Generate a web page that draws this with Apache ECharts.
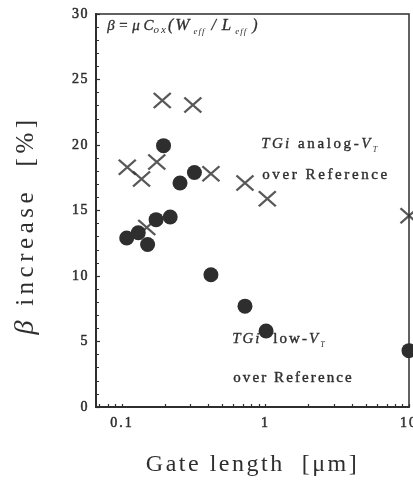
<!DOCTYPE html>
<html>
<head>
<meta charset="utf-8">
<script src="https://cdn.jsdelivr.net/npm/echarts@6/dist/echarts.min.js"></script>
<style>
  html, body { margin: 0; padding: 0; background: #ffffff; }
  #chart { width: 413px; height: 481px; }
</style>
</head>
<body>
<div id="chart"></div>
<script>
// TGi low-VT over Reference (filled circles)
const lowVtGateLength = [0.108, 0.130, 0.151, 0.173, 0.217, 0.254, 0.320, 0.195, 0.417, 0.72, 1.01, 10];
const lowVtIncrease   = [12.9, 13.3, 12.4, 14.3, 14.5, 17.1, 17.9, 19.95, 10.1, 7.7, 5.8, 4.3];

// TGi analog-VT over Reference (crosses)
const analogVtGateLength = [0.109, 0.137, 0.149, 0.175, 0.191, 0.312, 0.417, 0.72, 1.03, 10];
const analogVtIncrease   = [18.3, 17.4, 13.7, 18.7, 23.4, 23.05, 17.8, 17.1, 15.9, 14.6];

// Axis ticks
const xLabelValues = [0.1, 1, 10];
const xTickValues = [0.07, 0.08, 0.09, 0.1, 0.2, 0.3, 0.4, 0.5, 0.6, 0.7, 0.8, 0.9,
                     1, 2, 3, 4, 5, 6, 7, 8, 9, 10];

const INK = '#2e2e2e';
const SERIF = '"Liberation Serif", "Times New Roman", serif';

// Letter-spaced text: one rich token per character
function spaced(text, key) {
  return Array.from(text).map(function (c) { return '{' + key + '|' + c + '}'; }).join('');
}

// Axis label tokens (ECharts text style); a thin outline makes the strokes a little heavier
function labelToken(size, gap, heavy) {
  return { fontFamily: SERIF, fontSize: size, color: INK,
           textBorderColor: INK, textBorderWidth: heavy, padding: [0, gap, 0, 0] };
}

// Tokens for free-standing graphic text (zrender style keys)
function upright(size, gap, heavy) {
  return { fontFamily: SERIF, fontSize: size, fill: INK, lineHeight: 20,
           stroke: heavy ? INK : null, lineWidth: heavy || 0, padding: [0, gap, 0, 0] };
}
function italic(size, gap, heavy, padLeft) {
  return { fontFamily: SERIF, fontStyle: 'italic', fontSize: size, fill: INK, lineHeight: 20,
           stroke: heavy ? INK : null, lineWidth: heavy || 0, padding: [0, gap, 0, padLeft || 0] };
}
function subscript(size, lineHeight, padLeft, padRight) {
  return { fontFamily: SERIF, fontStyle: 'italic', fontSize: size, fill: INK,
           lineHeight: lineHeight, verticalAlign: 'bottom', padding: [0, padRight, 0, padLeft] };
}

const chart = echarts.init(document.getElementById('chart'), null, { renderer: 'canvas' });

const option = {
  backgroundColor: '#ffffff',
  animation: false,
  grid: {
    left: 96, right: 4, top: 14, bottom: 74,
    outerBoundsMode: 'none',
    containLabel: false,
    show: true, borderColor: INK, borderWidth: 1.5, backgroundColor: 'transparent'
  },
  xAxis: {
    type: 'log',
    logBase: 10,
    min: 0.066,
    max: 10,
    name: spaced('Gate length  [μm]', 'n'),
    nameLocation: 'middle',
    nameGap: 46,
    nameTextStyle: {
      rich: { n: { fontFamily: SERIF, fontSize: 24, color: INK, padding: [0, 2.5, 0, 0] } }
    },
    axisLine: { show: true, lineStyle: { color: INK, width: 2 } },
    axisTick: { show: true, inside: true, length: 3, customValues: xTickValues,
                lineStyle: { color: INK, width: 1.2 } },
    minorTick: { show: false },
    splitLine: { show: false },
    axisLabel: {
      customValues: xLabelValues,
      margin: 9,
      formatter: function (v) { return spaced(String(+(+v).toPrecision(3)), 't'); },
      rich: { t: labelToken(14, 2, 0.5) }
    }
  },
  yAxis: {
    type: 'value',
    min: 0,
    max: 30,
    interval: 5,
    name: '{b|β}' + spaced(' increase  [%]', 'n'),
    nameLocation: 'middle',
    nameGap: 56,
    nameTextStyle: {
      padding: [0, 29, 0, 0],
      rich: {
        b: { fontFamily: SERIF, fontStyle: 'italic', fontSize: 28, color: INK, padding: [0, 4, 0, 0] },
        n: { fontFamily: SERIF, fontSize: 25, color: INK, padding: [0, 4.5, 0, 0] }
      }
    },
    axisLine: { show: true, lineStyle: { color: INK, width: 2 } },
    axisTick: { show: true, inside: true, length: 4, lineStyle: { color: INK, width: 1.2 } },
    minorTick: { show: true, splitNumber: 5, length: 3, lineStyle: { color: INK, width: 1 } },
    splitLine: { show: false },
    axisLabel: {
      margin: 7,
      formatter: function (v) { return spaced(String(v), 't'); },
      rich: { t: labelToken(14, 1.5, 0.5) }
    }
  },
  series: [
    {
      name: 'TGi analog-VT over Reference',
      type: 'scatter',
      clip: false,
      symbol: 'path://M0,0L10,10M10,0L0,10',
      symbolSize: [17, 15],
      itemStyle: { color: 'transparent', borderColor: INK, borderWidth: 2.2 },
      data: analogVtGateLength.map(function (x, i) { return [x, analogVtIncrease[i]]; })
    },
    {
      name: 'TGi low-VT over Reference',
      type: 'scatter',
      clip: false,
      symbol: 'circle',
      symbolSize: 15,
      itemStyle: { color: INK, opacity: 1 },
      data: lowVtGateLength.map(function (x, i) { return [x, lowVtIncrease[i]]; })
    }
  ],
  graphic: [
    {
      type: 'text',
      left: 107, top: 17,
      style: {
        text: '{i|β = μ C}{s|o}{s|x}{p|(}{w|W}{e0|e}{e|f}{e|f}{sl|/}{w|L}{e0|e}{e|f}{e|f}{cl|)}',
        rich: {
          i: italic(15, 0, 0.3),
          p: italic(16, 2, 0.3),
          w: italic(17, 1, 0.3),
          sl: italic(16, 6, 0.3, 6),
          cl: italic(16, 0, 0.3, 5),
          s: subscript(11, 14, 0, 2),
          e0: subscript(9, 12, 3, 1),
          e: subscript(9, 12, 0, 1)
        }
      }
    },
    {
      type: 'text',
      left: 261, top: 136,
      style: {
        text: spaced('TGi', 'it') + spaced(' analog-', 'r') + '{it|V}{sub|T}',
        rich: {
          it: italic(15, 2.4, 0.3),
          r: upright(15, 2.6, 0.4),
          sub: subscript(8, 12, 0, 0)
        }
      }
    },
    {
      type: 'text',
      left: 262, top: 167,
      style: {
        text: spaced('over Reference', 'r'),
        rich: { r: upright(15, 2.6, 0.4) }
      }
    },
    {
      type: 'text',
      left: 232, top: 331,
      style: {
        text: spaced('TGi', 'it') + spaced('  low-', 'r') + '{it|V}{sub|T}',
        rich: {
          it: italic(15, 2, 0.3),
          r: upright(15, 2.1, 0.4),
          sub: subscript(8, 12, 0, 0)
        }
      }
    },
    {
      type: 'text',
      left: 233, top: 370,
      style: {
        text: spaced('over Reference', 'r'),
        rich: { r: upright(15, 2.1, 0.4) }
      }
    }
  ]
};

chart.setOption(option);
</script>
</body>
</html>
